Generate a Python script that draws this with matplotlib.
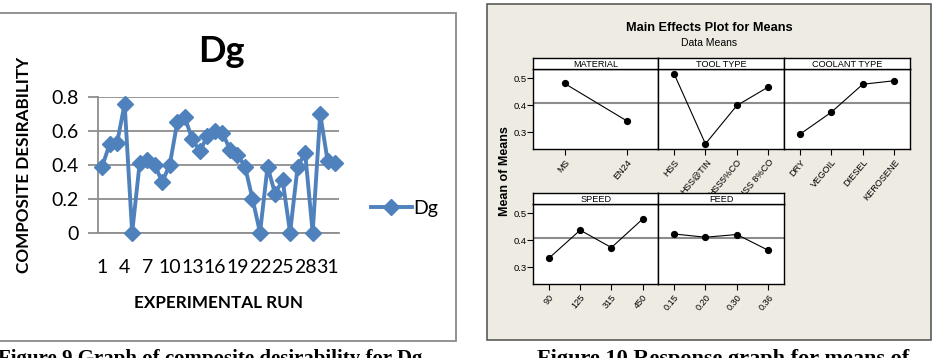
import matplotlib
matplotlib.use('Agg')
import matplotlib.pyplot as plt
from matplotlib.patches import Rectangle
from matplotlib import font_manager as fm

# ---------------- data ----------------
runs = list(range(1, 33))
dg = [0.39, 0.52, 0.53, 0.76, 0.00, 0.41, 0.43, 0.40, 0.30, 0.40,
      0.65, 0.68, 0.55, 0.48, 0.57, 0.60, 0.59, 0.49, 0.46, 0.39,
      0.20, 0.00, 0.39, 0.23, 0.31, 0.00, 0.39, 0.47, 0.00, 0.70,
      0.42, 0.41]
run_ticks = [1, 4, 7, 10, 13, 16, 19, 22, 25, 28, 31]
dg_yticks = [0, 0.2, 0.4, 0.6, 0.8]

material_levels = ['MS', 'EN24']
material_means = [0.480, 0.342]
tool_levels = ['HSS', 'HSS@TIN', 'HSS5%CO', 'HSS 8%CO']
tool_means = [0.516, 0.258, 0.399, 0.467]
coolant_levels = ['DRY', 'VEGOIL', 'DIESEL', 'KEROSENE']
coolant_means = [0.293, 0.374, 0.477, 0.490]
speed_levels = ['90', '125', '315', '450']
speed_means = [0.334, 0.437, 0.373, 0.478]
feed_levels = ['0.15', '0.20', '0.30', '0.36']
feed_means = [0.423, 0.411, 0.421, 0.363]
grand_mean = 0.408
me_yticks = [0.3, 0.4, 0.5]

# ---------------- fonts ----------------
names = {f.name for f in fm.fontManager.ttflist}
NARROW = 'Liberation Sans Narrow' if 'Liberation Sans Narrow' in names else 'Liberation Sans'
XL = 'Lato'

W, H = 934, 358
fig = plt.figure(figsize=(W / 100, H / 100), dpi=100)
fig.patch.set_facecolor('white')


def fx(x):
    return x / W


def fy(y):
    return 1 - y / H


def box(x0, y0, x1, y1):
    return [fx(x0), fy(y1), fx(x1) - fx(x0), fy(y0) - fy(y1)]


# ---------------- chart frames ----------------
fig.patches.append(Rectangle((fx(-3), fy(340.7)), fx(455.7) - fx(-3), fy(12.7) - fy(340.7),
                             transform=fig.transFigure, facecolor='white',
                             edgecolor='#8a8a8a', lw=1.3, zorder=-10))
fig.patches.append(Rectangle((fx(487.3), fy(340)), fx(930.7) - fx(487.3), fy(4.3) - fy(340),
                             transform=fig.transFigure, facecolor='#eeebe2',
                             edgecolor='#5a5a5a', lw=1.2, zorder=-10))

# ---------------- Dg line chart ----------------
ax = fig.add_axes(box(98.3, 97, 339, 232.7))
ax.set_facecolor('none')
blue = '#4f81bd'
ax.plot(runs, dg, color=blue, lw=2.8, marker='D', ms=7.8, mfc=blue, mec=blue,
        label='Dg', zorder=3, clip_on=False)
ax.set_xlim(0.5, 32.5)
ax.set_ylim(0, 0.8)
ax.set_yticks(dg_yticks)
ax.set_yticklabels(['0', '0.2', '0.4', '0.6', '0.8'])
ax.set_xticks(run_ticks)
ax.set_xticklabels([str(t) for t in run_ticks])
ax.grid(axis='y', color='#8e8e8e', lw=1.3)
ax.set_axisbelow(True)
for s in ['top', 'right']:
    ax.spines[s].set_visible(False)
ax.spines['left'].set_color('#8e8e8e')
ax.spines['left'].set_linewidth(1.3)
ax.spines['bottom'].set_color('#8e8e8e')
ax.spines['bottom'].set_linewidth(1.3)
ax.tick_params(axis='y', length=7, width=1.3, color='#8e8e8e', pad=7,
               labelsize=14, labelfontfamily=XL)
ax.tick_params(axis='x', length=0, pad=19, labelsize=14, labelfontfamily=XL)
ax.set_title('Dg', fontsize=26, fontweight='bold', family=XL, pad=25, x=0.51)
fig.text(fx(24), fy(165), 'COMPOSITE DESIRABILITY', rotation=90, ha='center', va='center',
         fontsize=12.3, fontweight='bold', family=XL)
fig.text(fx(219), fy(303), 'EXPERIMENTAL RUN', ha='center', va='center',
         fontsize=12.3, fontweight='bold', family=XL)
axw = fx(339) - fx(98.3)
ax.legend(loc='center left', bbox_to_anchor=((fx(363) - fx(98.3)) / axw, 0.18),
          frameon=False, prop={'family': XL, 'size': 14},
          handlelength=2.1, handletextpad=0.1, borderaxespad=0)

# ---------------- Main effects plot ----------------
fig.text(fx(709), fy(28), 'Main Effects Plot for Means', ha='center', va='center',
         fontsize=9.2, fontweight='bold', family='Liberation Sans')
fig.text(fx(709), fy(43), 'Data Means', ha='center', va='center',
         fontsize=7.5, family=NARROW)
fig.text(fx(505), fy(171), 'Mean of Means', rotation=90, ha='center', va='center',
         fontsize=9, fontweight='bold', family='Liberation Sans')

cols = [(533.3, 658.3), (658.3, 784), (784, 910)]
rows = [(58.3, 69.3, 149.3), (193.3, 204.3, 284.3)]
panels = [
    (0, 0, 'MATERIAL', material_levels, material_means),
    (0, 1, 'TOOL TYPE', tool_levels, tool_means),
    (0, 2, 'COOLANT TYPE', coolant_levels, coolant_means),
    (1, 0, 'SPEED', speed_levels, speed_means),
    (1, 1, 'FEED', feed_levels, feed_means),
]
for r, c, name, levels, means in panels:
    x0, x1 = cols[c]
    st, pt, pb = rows[r]
    pax = fig.add_axes(box(x0, pt, x1, pb))
    pax.set_facecolor('white')
    n = len(levels)
    xs = list(range(1, n + 1))
    pax.axhline(grand_mean, color='#8c8c8c', lw=1.5, zorder=1)
    pax.plot(xs, means, color='black', lw=0.8, marker='o', ms=4.2, zorder=3)
    pax.set_xlim(0.5, n + 0.5)
    pax.set_ylim(0.238, 0.532)
    pax.set_xticks(xs)
    pax.set_xticklabels(levels, rotation=50, ha='right', rotation_mode='anchor',
                        fontsize=6.6, family=NARROW)
    pax.set_yticks(me_yticks)
    if c == 0:
        pax.set_yticklabels(['0.3', '0.4', '0.5'], fontsize=6.8, family=NARROW)
        pax.tick_params(axis='y', length=4, width=0.8, pad=1)
    else:
        pax.tick_params(axis='y', length=0, labelleft=False)
    pax.tick_params(axis='x', length=4, width=0.8, pad=2)
    for s in pax.spines.values():
        s.set_linewidth(1.0)
        s.set_color('black')
    sax = fig.add_axes(box(x0, st, x1, pt))
    sax.set_facecolor('white')
    sax.set_xticks([])
    sax.set_yticks([])
    for s in sax.spines.values():
        s.set_linewidth(1.0)
        s.set_color('black')
    sax.text(0.5, 0.45, name, ha='center', va='center', fontsize=6.6,
             family=NARROW, transform=sax.transAxes)

# ---------------- captions (cut off at the bottom, as in the reference) ----------------
fig.text(fx(-2), fy(364), 'Figure 9 Graph of composite desirability for Dg', ha='left',
         va='baseline', fontsize=15, fontweight='bold', family='Liberation Serif')
fig.text(fx(537), fy(364), 'Figure 10 Response graph for means of', ha='left',
         va='baseline', fontsize=16, fontweight='bold', family='Liberation Serif')

fig.savefig('out.png', dpi=100, facecolor='white')
